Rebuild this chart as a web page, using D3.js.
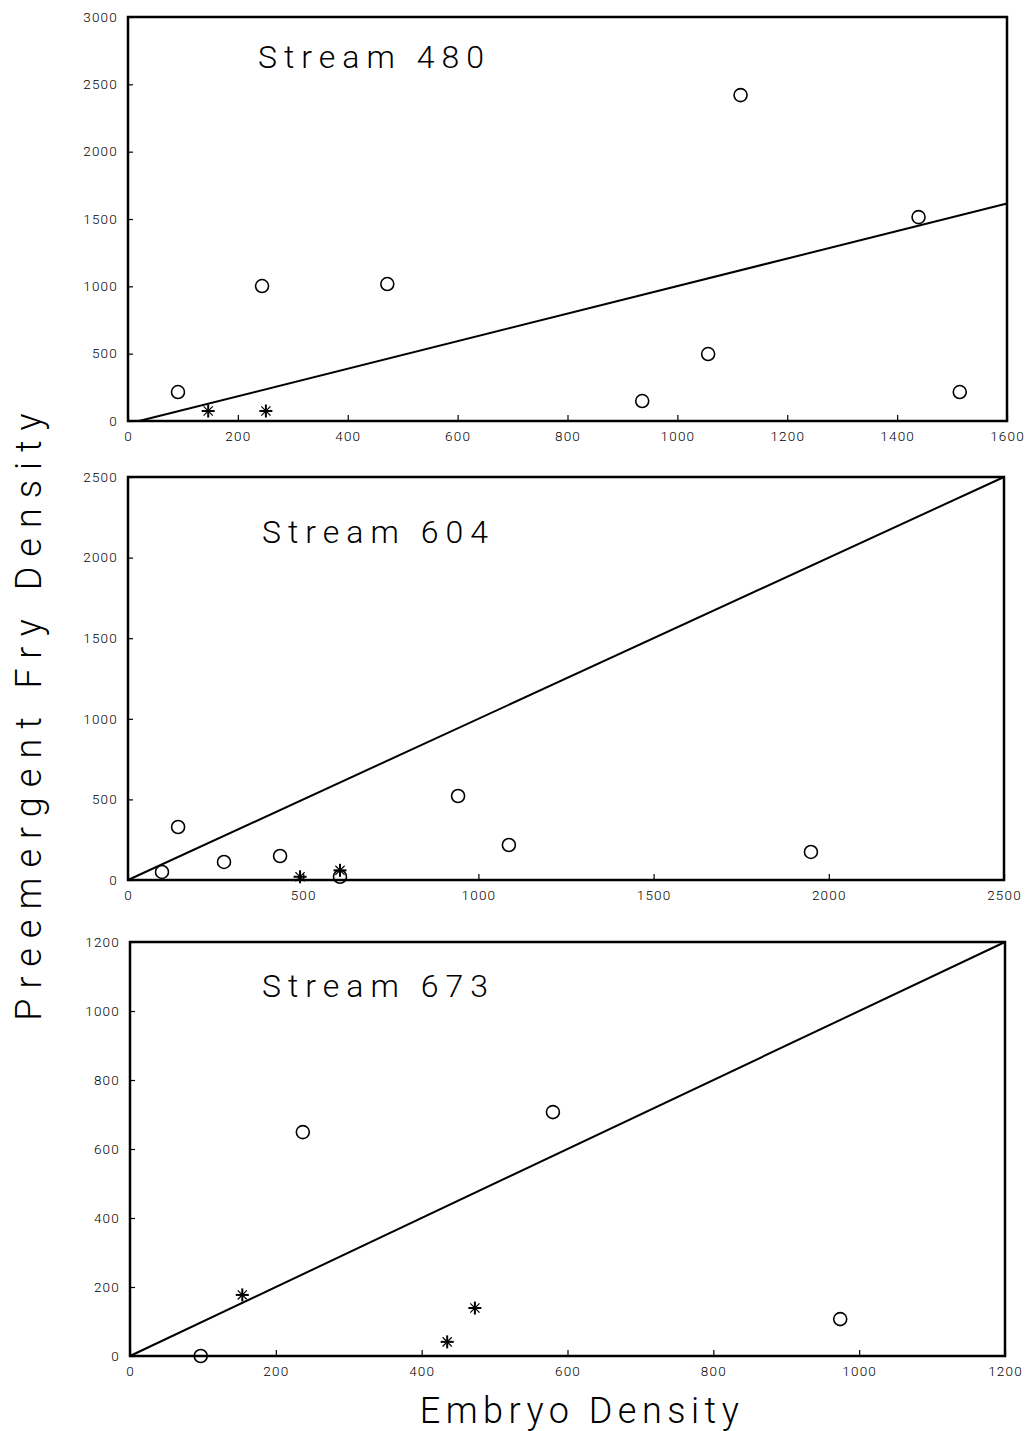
<!DOCTYPE html>
<html><head><meta charset="utf-8">
<script src="https://cdn.jsdelivr.net/npm/d3@7"></script>
<style>body{margin:0;background:#fff}svg{display:block}text{font-family:Roboto,"DejaVu Sans",sans-serif;fill:#000}</style>
</head><body>
<script>
// ---- data ----
const streams = ["Stream 480", "Stream 604", "Stream 673"];
const xMax = [1600, 2500, 1200];
const yMax = [3000, 2500, 1200];
const xTicks480 = [0,200,400,600,800,1000,1200,1400,1600];
const yTicks480 = [0,500,1000,1500,2000,2500,3000];
const xTicks604 = [0,500,1000,1500,2000,2500];
const yTicks604 = [0,500,1000,1500,2000,2500];
const xTicks673 = [0,200,400,600,800,1000,1200];
const yTicks673 = [0,200,400,600,800,1000,1200];
const circles480 = [[91,215],[244,1002],[472,1017],[936,148],[1056,497],[1115,2420],[1439,1514],[1514,215]];
const stars480 = [[146,74],[251,74]];
const line480 = [[20,0],[1600,1615]];
const circles604 = [[97,50],[143,329],[274,112],[434,149],[942,521],[1087,217],[1949,174],[605,20]];
const stars604 = [[491,20],[605,60]];
const line604 = [[0,0],[2500,2500]];
const circles673 = [[97,0],[237,649],[580,707],[974,107]];
const stars673 = [[154,177],[473,139],[435,41]];
const line673 = [[0,0],[1200,1200]];
const xLabel = "Embryo Density";
const yLabel = "Preemergent Fry Density";

// ---- layout ----
const panels = [
  {x0:128, x1:1007, y0:17, y1:421, xt:xTicks480, yt:yTicks480, c:circles480, s:stars480, l:line480, ty:56, tx:258},
  {x0:128, x1:1004, y0:477, y1:880, xt:xTicks604, yt:yTicks604, c:circles604, s:stars604, l:line604, ty:531, tx:262},
  {x0:130, x1:1005, y0:942, y1:1356, xt:xTicks673, yt:yTicks673, c:circles673, s:stars673, l:line673, ty:985, tx:262}
];
const svg = d3.select("body").append("svg").attr("width",1035).attr("height",1431);

panels.forEach((p,i)=>{
  const x = d3.scaleLinear().domain([0,xMax[i]]).range([p.x0,p.x1]);
  const y = d3.scaleLinear().domain([0,yMax[i]]).range([p.y1,p.y0]);
  const g = svg.append("g");
  g.append("g").attr("transform",`translate(0,${p.y1})`)
    .call(d3.axisBottom(x).tickValues(p.xt).tickSize(-6).tickPadding(10).tickFormat(d3.format("d")))
    .call(a=>a.select(".domain").remove())
    .call(a=>a.selectAll("text").attr("font-size",13.5).attr("font-weight",300).attr("letter-spacing",1.2))
    .call(a=>a.selectAll("line").attr("stroke-width",1.2));
  g.append("g").attr("transform",`translate(${p.x0},0)`)
    .call(d3.axisLeft(y).tickValues(p.yt).tickSize(-5).tickPadding(10).tickFormat(d3.format("d")))
    .call(a=>a.select(".domain").remove())
    .call(a=>a.selectAll("text").attr("font-size",13.5).attr("font-weight",300).attr("letter-spacing",1.2))
    .call(a=>a.selectAll("line").attr("stroke-width",1.2));
  g.append("rect").attr("x",p.x0).attr("y",p.y0).attr("width",p.x1-p.x0).attr("height",p.y1-p.y0)
    .attr("fill","none").attr("stroke","#000").attr("stroke-width",2.5);
  g.append("line").attr("x1",x(p.l[0][0])).attr("y1",y(p.l[0][1])).attr("x2",x(p.l[1][0])).attr("y2",y(p.l[1][1]))
    .attr("stroke","#000").attr("stroke-width",2);
  g.selectAll("circle.pt").data(p.c).join("circle").attr("class","pt")
    .attr("cx",d=>x(d[0])).attr("cy",d=>y(d[1])).attr("r",6.5)
    .attr("fill","none").attr("stroke","#000").attr("stroke-width",1.6);
  const sg = g.selectAll("g.st").data(p.s).join("g").attr("class","st")
    .attr("transform",d=>`translate(${x(d[0])},${y(d[1])})`);
  [0,45,90,135].forEach(a=>{
    sg.append("line").attr("x1",-6.5).attr("x2",6.5).attr("y1",0).attr("y2",0)
      .attr("transform",`rotate(${a})`).attr("stroke","#000").attr("stroke-width",a%90===0?2:1.2);
  });
  g.append("text").attr("x",p.tx).attr("y",p.ty).attr("dy","0.36em")
    .attr("font-size",32).attr("font-weight",300).attr("letter-spacing",7).text(streams[i]);
});

svg.append("text").attr("x",582).attr("y",1410).attr("dy","0.36em").attr("text-anchor","middle")
  .attr("font-size",36).attr("font-weight",300).attr("letter-spacing",5.5).text(xLabel);
svg.append("text").attr("transform","translate(28,712) rotate(-90)").attr("dy","0.36em").attr("text-anchor","middle")
  .attr("font-size",36).attr("font-weight",300).attr("letter-spacing",10).text(yLabel);
</script>
</body></html>
